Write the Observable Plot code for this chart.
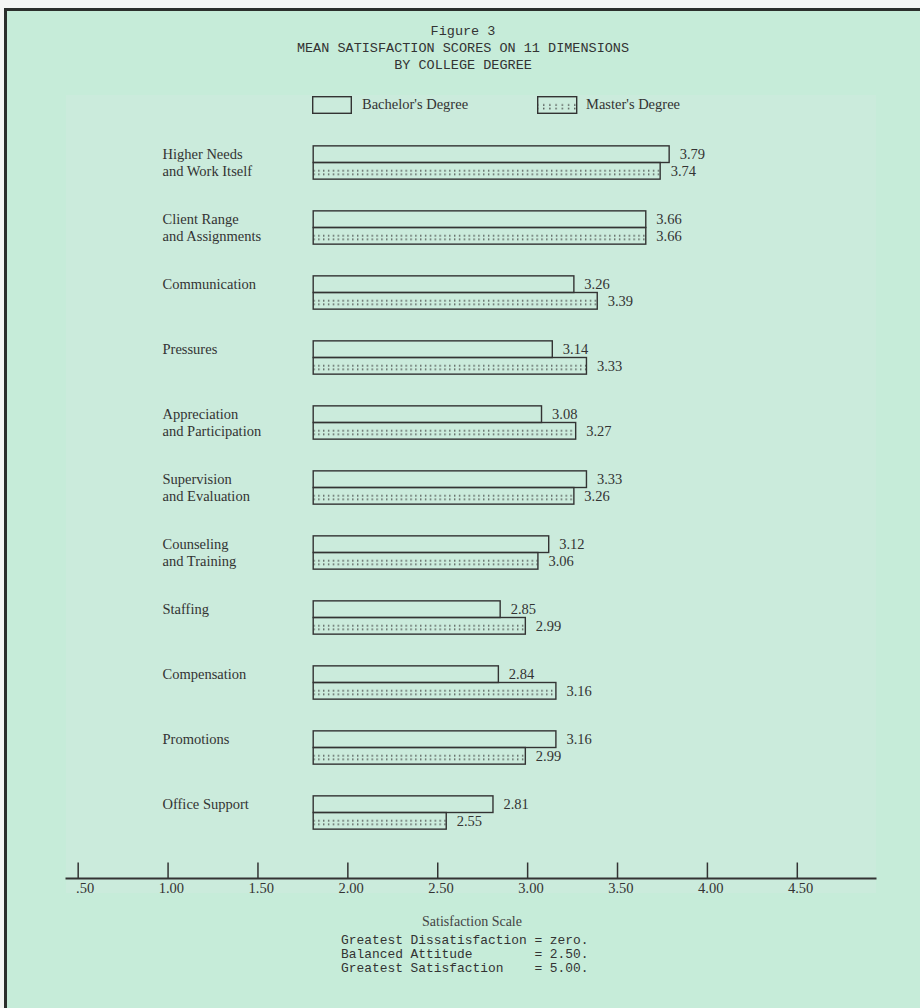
<!DOCTYPE html>
<html>
<head>
<meta charset="utf-8">
<script src="https://cdn.jsdelivr.net/npm/d3@7"></script>
<script src="https://cdn.jsdelivr.net/npm/@observablehq/plot@0.6"></script>
<style>
  html, body { margin: 0; padding: 0; width: 920px; height: 1008px; background: #f4f6f4; overflow: hidden; }
  .page { position: absolute; left: 4px; top: 8px; width: 916px; height: 1000px;
          border-left: 3px solid #2b2f2c; border-top: 3px solid #2b2f2c; background: #c6ecd9; }
  .tex { position: absolute; left: 66px; top: 95px; width: 810px; height: 798px; background: #cbebdc; }
  .title { position: absolute; left: 0; top: 22.5px; width: 926px; text-align: center;
           font-family: "Liberation Mono", monospace; font-size: 13.5px; line-height: 17px; color: #333; }
  .leg { position: absolute; font-family: "Liberation Serif", serif; font-size: 14.5px; color: #333; white-space: nowrap; }
  .chart { position: absolute; left: 0; top: 120px; }
  .scale { position: absolute; left: 0; width: 944px; top: 914px; text-align: center;
           font-family: "Liberation Serif", serif; font-size: 14px; color: #444; }
  .notes { position: absolute; left: 341px; top: 934px; font-family: "Liberation Mono", monospace;
           font-size: 12.9px; line-height: 14px; color: #333; white-space: pre; }
</style>
</head>
<body>
<div class="page"></div>
<div class="tex"></div>
<div class="title">Figure 3<br>MEAN SATISFACTION SCORES ON 11 DIMENSIONS<br>BY COLLEGE DEGREE</div>
<div id="legend"></div>
<div class="chart" id="chart"></div>
<div class="scale">Satisfaction Scale</div>
<div class="notes">Greatest Dissatisfaction = zero.
Balanced Attitude        = 2.50.
Greatest Satisfaction    = 5.00.</div>
<script>
// ---- data ----
const categories = [
  "Higher Needs\nand Work Itself",
  "Client Range\nand Assignments",
  "Communication",
  "Pressures",
  "Appreciation\nand Participation",
  "Supervision\nand Evaluation",
  "Counseling\nand Training",
  "Staffing",
  "Compensation",
  "Promotions",
  "Office Support"
];
const bachelor = [3.79, 3.66, 3.26, 3.14, 3.08, 3.33, 3.12, 2.85, 2.84, 3.16, 2.81];
const master   = [3.74, 3.66, 3.39, 3.33, 3.27, 3.26, 3.06, 2.99, 3.16, 2.99, 2.55];
const seriesNames = ["Bachelor's Degree", "Master's Degree"];
const tickValues = [0.5, 1, 1.5, 2, 2.5, 3, 3.5, 4, 4.5];
const tickLabels = [".50", "1.00", "1.50", "2.00", "2.50", "3.00", "3.50", "4.00", "4.50"];
const barStart = 1.81;       // value where the drawn bars begin
const xDomain = [0.435, 4.935];

const rows = categories.map((c, i) => {
  const lines = c.split("\n");
  return { category: c, line1: lines[0], line2: lines[1] || "", bachelor: bachelor[i], master: master[i] };
});

const ink = "#333";
const W = 920, H = 790, mTop = 10, mBottom = 32;
const half = 16.64;

const chart = Plot.plot({
  width: W, height: H,
  marginLeft: 66, marginRight: 45, marginTop: mTop, marginBottom: mBottom,
  style: { background: "transparent", fontFamily: "'Liberation Serif', serif", fontSize: "14.5px", color: ink },
  x: { domain: xDomain, axis: null },
  y: { type: "band", domain: categories, range: [10, 725], paddingInner: 0.488, paddingOuter: 0.244, round: false, axis: null },
  marks: [
    Plot.frame({ anchor: "bottom", stroke: ink, strokeWidth: 2 }),
    Plot.gridX(tickValues, { stroke: ink, strokeOpacity: 1, strokeWidth: 1.5, insetTop: (H - mTop - mBottom) - 15.5 }),
    Plot.axisX(tickValues, { tickSize: 0, tickPadding: 4, textAnchor: "end", dx: 16, fontSize: 14.5,
      tickFormat: d => tickLabels[tickValues.indexOf(d)], label: null, fill: ink }),
    Plot.barX(rows, { x1: () => barStart, x2: "bachelor", y: "category", insetBottom: half,
      fill: "none", stroke: ink, strokeWidth: 1.4 }),
    Plot.barX(rows, { x1: () => barStart, x2: "master", y: "category", insetTop: half,
      fill: "url(#dots)", stroke: ink, strokeWidth: 1.4 }),
    Plot.text(rows, { y: "category", text: "line1", frameAnchor: "left", textAnchor: "start", dx: 96, dy: -half / 2, fill: ink }),
    Plot.text(rows, { y: "category", text: "line2", frameAnchor: "left", textAnchor: "start", dx: 96, dy: half / 2, fill: ink }),
    Plot.text(rows, { x: "bachelor", y: "category", text: d => d.bachelor.toFixed(2), textAnchor: "start", dx: 10, dy: -half / 2, fill: ink }),
    Plot.text(rows, { x: "master", y: "category", text: d => d.master.toFixed(2), textAnchor: "start", dx: 10, dy: half / 2, fill: ink })
  ]
});

// dotted (":::::") fill for the Master's bars, one pattern aligned to each bar
const NS = "http://www.w3.org/2000/svg";
function dotPattern(id, x0, y0) {
  const p = document.createElementNS(NS, "pattern");
  p.setAttribute("id", id);
  p.setAttribute("patternUnits", "userSpaceOnUse");
  p.setAttribute("x", x0); p.setAttribute("y", y0);
  p.setAttribute("width", 4.85); p.setAttribute("height", 200);
  for (const dy of [7.6, 11.1]) {
    const r = document.createElementNS(NS, "rect");
    r.setAttribute("x", 0); r.setAttribute("y", dy);
    r.setAttribute("width", 1.4); r.setAttribute("height", 1.4);
    r.setAttribute("fill", "#3d3d3d");
    p.appendChild(r);
  }
  return p;
}
const defs = document.createElementNS(NS, "defs");
chart.insertBefore(defs, chart.firstChild);
chart.querySelectorAll('g[fill="url(#dots)"] rect').forEach((r, i) => {
  const x = +r.getAttribute("x"), y = +r.getAttribute("y");
  defs.appendChild(dotPattern("dots-" + i, x + 5, y));
  r.setAttribute("fill", `url(#dots-${i})`);
});
document.getElementById("chart").appendChild(chart);

// legend
const leg = document.getElementById("legend");
leg.innerHTML = `
<svg style="position:absolute;left:312px;top:96px" width="41" height="19">
  <rect x="0.7" y="0.7" width="38.6" height="16.6" fill="none" stroke="${ink}" stroke-width="1.4"/>
</svg>
<div class="leg" style="left:362px;top:96px">${seriesNames[0]}</div>
<svg style="position:absolute;left:537px;top:96px" width="42" height="19">
  <rect x="0.7" y="0.7" width="39" height="16.6" fill="url(#legdots2)" stroke="${ink}" stroke-width="1.4"/>
</svg>
<div class="leg" style="left:586px;top:96px">${seriesNames[1]}</div>`;
const lsvg = leg.querySelectorAll("svg")[1];
const ldefs = document.createElementNS(NS, "defs");
const lp = dotPattern("legdots2", 6, 0.7);
lp.setAttribute("width", 6.2);
ldefs.appendChild(lp);
lsvg.insertBefore(ldefs, lsvg.firstChild);
</script>
</body>
</html>
